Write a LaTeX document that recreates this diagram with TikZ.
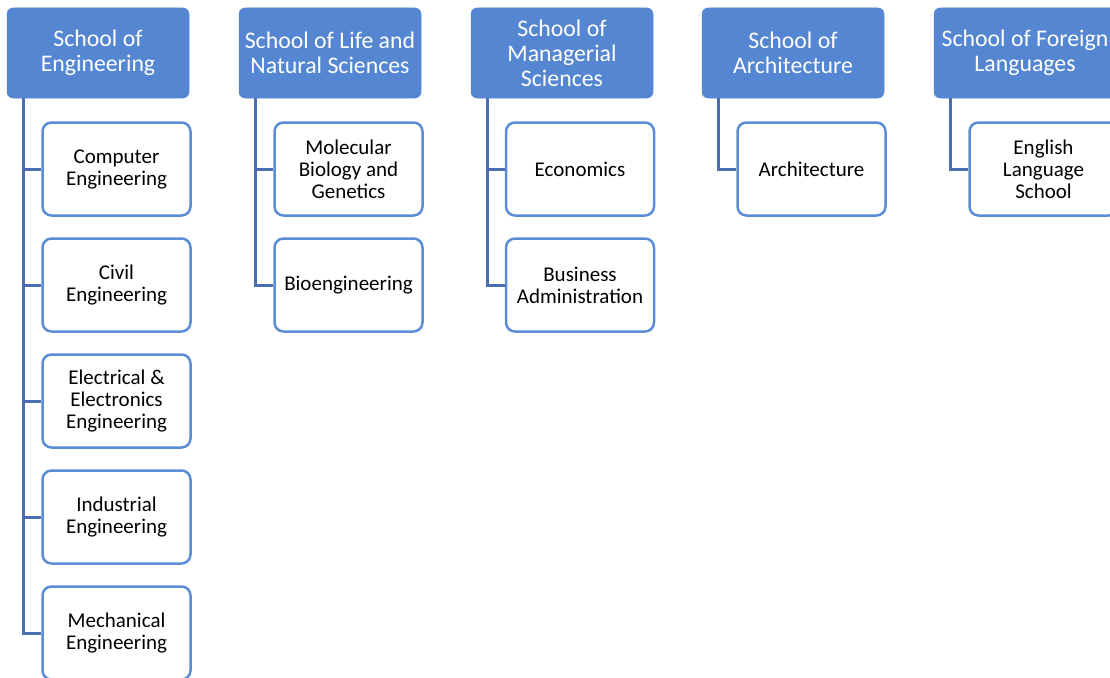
\documentclass[tikz,border=0pt]{standalone}
\usepackage{fontspec}
\setmainfont{Carlito}
\definecolor{hdrfill}{HTML}{5586D1}
\definecolor{boxline}{HTML}{5B8DD6}
\definecolor{connline}{HTML}{4A70B3}
\begin{document}
\begin{tikzpicture}[x=1pt,y=-1pt,
  hdr/.style={fill=hdrfill,draw=hdrfill,line width=0.5pt,rounded corners=6pt,minimum width=182pt,minimum height=90pt,inner sep=0pt,text=white,align=center,font=\fontsize{23.8}{25}\selectfont},
  sub/.style={fill=white,draw=boxline,line width=2.5pt,rounded corners=9pt,minimum width=148pt,minimum height=93pt,inner sep=0pt,text=black,align=center,font=\fontsize{21}{22}\selectfont},
  conn/.style={draw=connline,line width=3pt}]
\useasboundingbox (0,0) rectangle (1110,677);
\clip (0,0) rectangle (1110,677);
% headers
\node[hdr] (h1) at (98,53) {School of\\Engineering};
\node[hdr] (h2) at (330,53) {School of Life and\\Natural Sciences};
\node[hdr] (h3) at (562,53) {School of\\Managerial\\Sciences};
\node[hdr] (h4) at (793,53) {School of\\Architecture};
\node[hdr] (h5) at (1025,53) {School of Foreign\\Languages};
% column 1
\node[sub] (c11) at (116.5,169) {Computer\\Engineering};
\node[sub] (c12) at (116.5,285) {Civil\\Engineering};
\node[sub] (c13) at (116.5,401) {Electrical \&\\Electronics\\Engineering};
\node[sub] (c14) at (116.5,517) {Industrial\\Engineering};
\node[sub] (c15) at (116.5,633) {Mechanical\\Engineering};
% column 2
\node[sub] (c21) at (348.5,169) {Molecular\\Biology and\\Genetics};
\node[sub] (c22) at (348.5,285) {Bioengineering};
% column 3
\node[sub] (c31) at (580,169) {Economics};
\node[sub] (c32) at (580,285) {Business\\Administration};
% column 4
\node[sub] (c41) at (811.5,169) {Architecture};
% column 5
\node[sub] (c51) at (1043.5,169) {English\\Language\\School};
% connectors
\foreach \h/\c in {h1/c11,h1/c12,h1/c13,h1/c14,h1/c15,h2/c21,h2/c22,h3/c31,h3/c32,h4/c41,h5/c51}{
  \draw[conn] ([xshift=17pt]\h.south west) |- (\c.west);
}
\end{tikzpicture}
\end{document}
